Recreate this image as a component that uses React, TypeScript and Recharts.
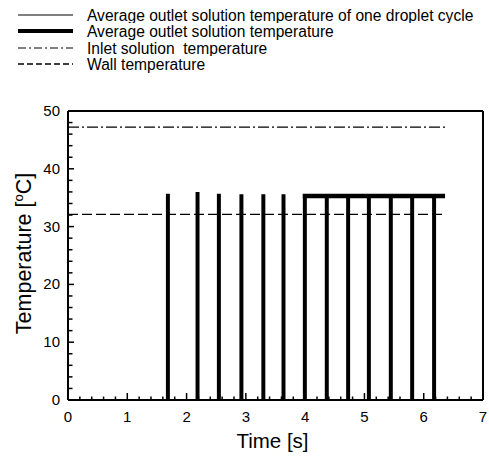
import { LineChart, Line, XAxis, YAxis, Legend, Label } from 'recharts'

// droplet cycle spikes: start time [s] and peak temperature [°C]
const spikeTimes = [1.67, 2.17, 2.53, 2.91, 3.28, 3.62, 3.98, 4.35, 4.71, 5.06, 5.43, 5.79, 6.16]
const spikePeaks = [35.5, 35.8, 35.5, 35.4, 35.4, 35.4, 35.4, 35.2, 35.2, 35.2, 35.2, 35.2, 35.2]
const spikeWidth = 0.03

const averageTimes = [3.96, 6.36]
const averageTemps = [35.3, 35.3]

const inletTimes = [0, 6.36]
const inletTemps = [47.2, 47.2]

const wallTimes = [0, 6.36]
const wallTemps = [32.1, 32.1]

const xTicks = [
  0, 0.2, 0.4, 0.6, 0.8, 1, 1.2, 1.4, 1.6, 1.8, 2, 2.2, 2.4, 2.6, 2.8, 3, 3.2, 3.4, 3.6, 3.8,
  4, 4.2, 4.4, 4.6, 4.8, 5, 5.2, 5.4, 5.6, 5.8, 6, 6.2, 6.4, 6.6, 6.8, 7,
]
const yTicks = [
  0, 2, 4, 6, 8, 10, 12, 14, 16, 18, 20, 22, 24, 26, 28, 30, 32, 34, 36, 38, 40, 42, 44, 46, 48, 50,
]

const cycleData = spikeTimes.flatMap((t, i) => [
  { t, T: 0 },
  { t, T: spikePeaks[i] },
  { t: t + spikeWidth, T: spikePeaks[i] },
  { t: t + spikeWidth, T: 0 },
])
const averageData = averageTimes.map((t, i) => ({ t, T: averageTemps[i] }))
const inletData = inletTimes.map((t, i) => ({ t, T: inletTemps[i] }))
const wallData = wallTimes.map((t, i) => ({ t, T: wallTemps[i] }))

const FONT = '"Liberation Sans", Arial, sans-serif'

const legendOrder = [
  'Average outlet solution temperature of one droplet cycle',
  'Average outlet solution temperature',
  'Inlet solution  temperature',
  'Wall temperature',
]
const legendStyles: Record<string, { width: number; dash?: string }> = {
  'Average outlet solution temperature of one droplet cycle': { width: 1.2 },
  'Average outlet solution temperature': { width: 4 },
  'Inlet solution  temperature': { width: 1.2, dash: '8 3 2 3' },
  'Wall temperature': { width: 1.5, dash: '6 3' },
}

const XTick = (props: any) => {
  const { x, y, payload } = props
  const major = Number.isInteger(payload.value)
  return (
    <g>
      <line x1={x} x2={x} y1={y} y2={y - (major ? 7 : 3.5)} stroke="#000" strokeWidth={1.5} />
      {major && (
        <text x={x} y={y + 22} textAnchor="middle" fontSize={15} fontFamily={FONT} fill="#000">
          {payload.value}
        </text>
      )}
    </g>
  )
}

const YTick = (props: any) => {
  const { x, y, payload } = props
  const major = payload.value % 10 === 0
  return (
    <g>
      <line x1={x} x2={x + (major ? 6 : 4.5)} y1={y} y2={y} stroke="#000" strokeWidth={1.5} />
      {major && (
        <text x={x - 8} y={y + 5} textAnchor="end" fontSize={15} fontFamily={FONT} fill="#000">
          {payload.value}
        </text>
      )}
    </g>
  )
}

const renderLegend = (props: any) => {
  const items = [...(props.payload || [])].sort(
    (a: any, b: any) => legendOrder.indexOf(a.value) - legendOrder.indexOf(b.value)
  )
  return (
    <div style={{ position: 'absolute', top: 7, left: 0 }}>
      {items.map((entry: any) => {
        const st = legendStyles[entry.value] || { width: 1 }
        return (
          <svg key={entry.value} width={489} height={16.4} style={{ display: 'block' }}>
            <line x1={18} x2={73} y1={8} y2={8} stroke="#000" strokeWidth={st.width} strokeDasharray={st.dash} />
            <text x={87} y={13.5} fontSize={15.6} fontFamily={FONT} fill="#000" style={{ whiteSpace: 'pre' }}>
              {entry.value}
            </text>
          </svg>
        )
      })}
    </div>
  )
}

export default function App() {
  return (
    <div style={{ position: 'absolute', left: 0, top: 0, width: 489, height: 461, background: '#fff' }}>
      <LineChart width={489} height={461} margin={{ top: 110, right: 5, bottom: 60, left: 67 }}>
        <XAxis
          dataKey="t"
          type="number"
          domain={[0, 7]}
          ticks={xTicks}
          interval={0}
          height={1}
          tickSize={0}
          tickMargin={0}
          tickLine={false}
          tick={<XTick />}
          axisLine={{ stroke: '#000', strokeWidth: 2 }}
        >
          <Label
            content={({ viewBox }: any) => (
              <text
                x={viewBox.x + viewBox.width / 2 - 3}
                y={viewBox.y + 48}
                textAnchor="middle"
                fontSize={20.5}
                fontFamily={FONT}
                fill="#000"
              >
                Time [s]
              </text>
            )}
          />
        </XAxis>
        <XAxis
          xAxisId="top"
          orientation="top"
          type="number"
          domain={[0, 7]}
          height={1}
          tick={false}
          tickLine={false}
          axisLine={{ stroke: '#000', strokeWidth: 2 }}
        />
        <YAxis
          type="number"
          domain={[0, 50]}
          ticks={yTicks}
          interval={0}
          width={1}
          tickSize={0}
          tickMargin={0}
          tickLine={false}
          tick={<YTick />}
          axisLine={{ stroke: '#000', strokeWidth: 2 }}
        >
          <Label
            content={({ viewBox }: any) => {
              const cx = 31
              const cy = viewBox.y + viewBox.height / 2 - 2
              return (
                <text
                  x={cx}
                  y={cy}
                  transform={`rotate(-90, ${cx}, ${cy})`}
                  textAnchor="middle"
                  fontSize={21.5}
                  fontFamily={FONT}
                  fill="#000"
                >
                  Temperature [<tspan dy={-8} fontSize={13}>o</tspan>
                  <tspan dy={8}>C]</tspan>
                </text>
              )
            }}
          />
        </YAxis>
        <YAxis
          yAxisId="right"
          orientation="right"
          type="number"
          domain={[0, 50]}
          width={1}
          tick={false}
          tickLine={false}
          axisLine={{ stroke: '#000', strokeWidth: 2 }}
        />
        <Legend
          verticalAlign="top"
          content={renderLegend}
          wrapperStyle={{ position: 'absolute', top: 0, left: 0, width: 489, height: 0 }}
        />
        <Line
          data={cycleData}
          dataKey="T"
          name="Average outlet solution temperature of one droplet cycle"
          stroke="#000"
          strokeWidth={2.2}
          dot={false}
          isAnimationActive={false}
        />
        <Line
          data={averageData}
          dataKey="T"
          name="Average outlet solution temperature"
          stroke="#000"
          strokeWidth={4.5}
          dot={false}
          isAnimationActive={false}
        />
        <Line
          data={inletData}
          dataKey="T"
          name="Inlet solution  temperature"
          stroke="#000"
          strokeWidth={1.3}
          strokeDasharray="11 3 2 3"
          dot={false}
          isAnimationActive={false}
        />
        <Line
          data={wallData}
          dataKey="T"
          name="Wall temperature"
          stroke="#000"
          strokeWidth={1.3}
          strokeDasharray="10 4"
          dot={false}
          isAnimationActive={false}
        />
      </LineChart>
    </div>
  )
}
